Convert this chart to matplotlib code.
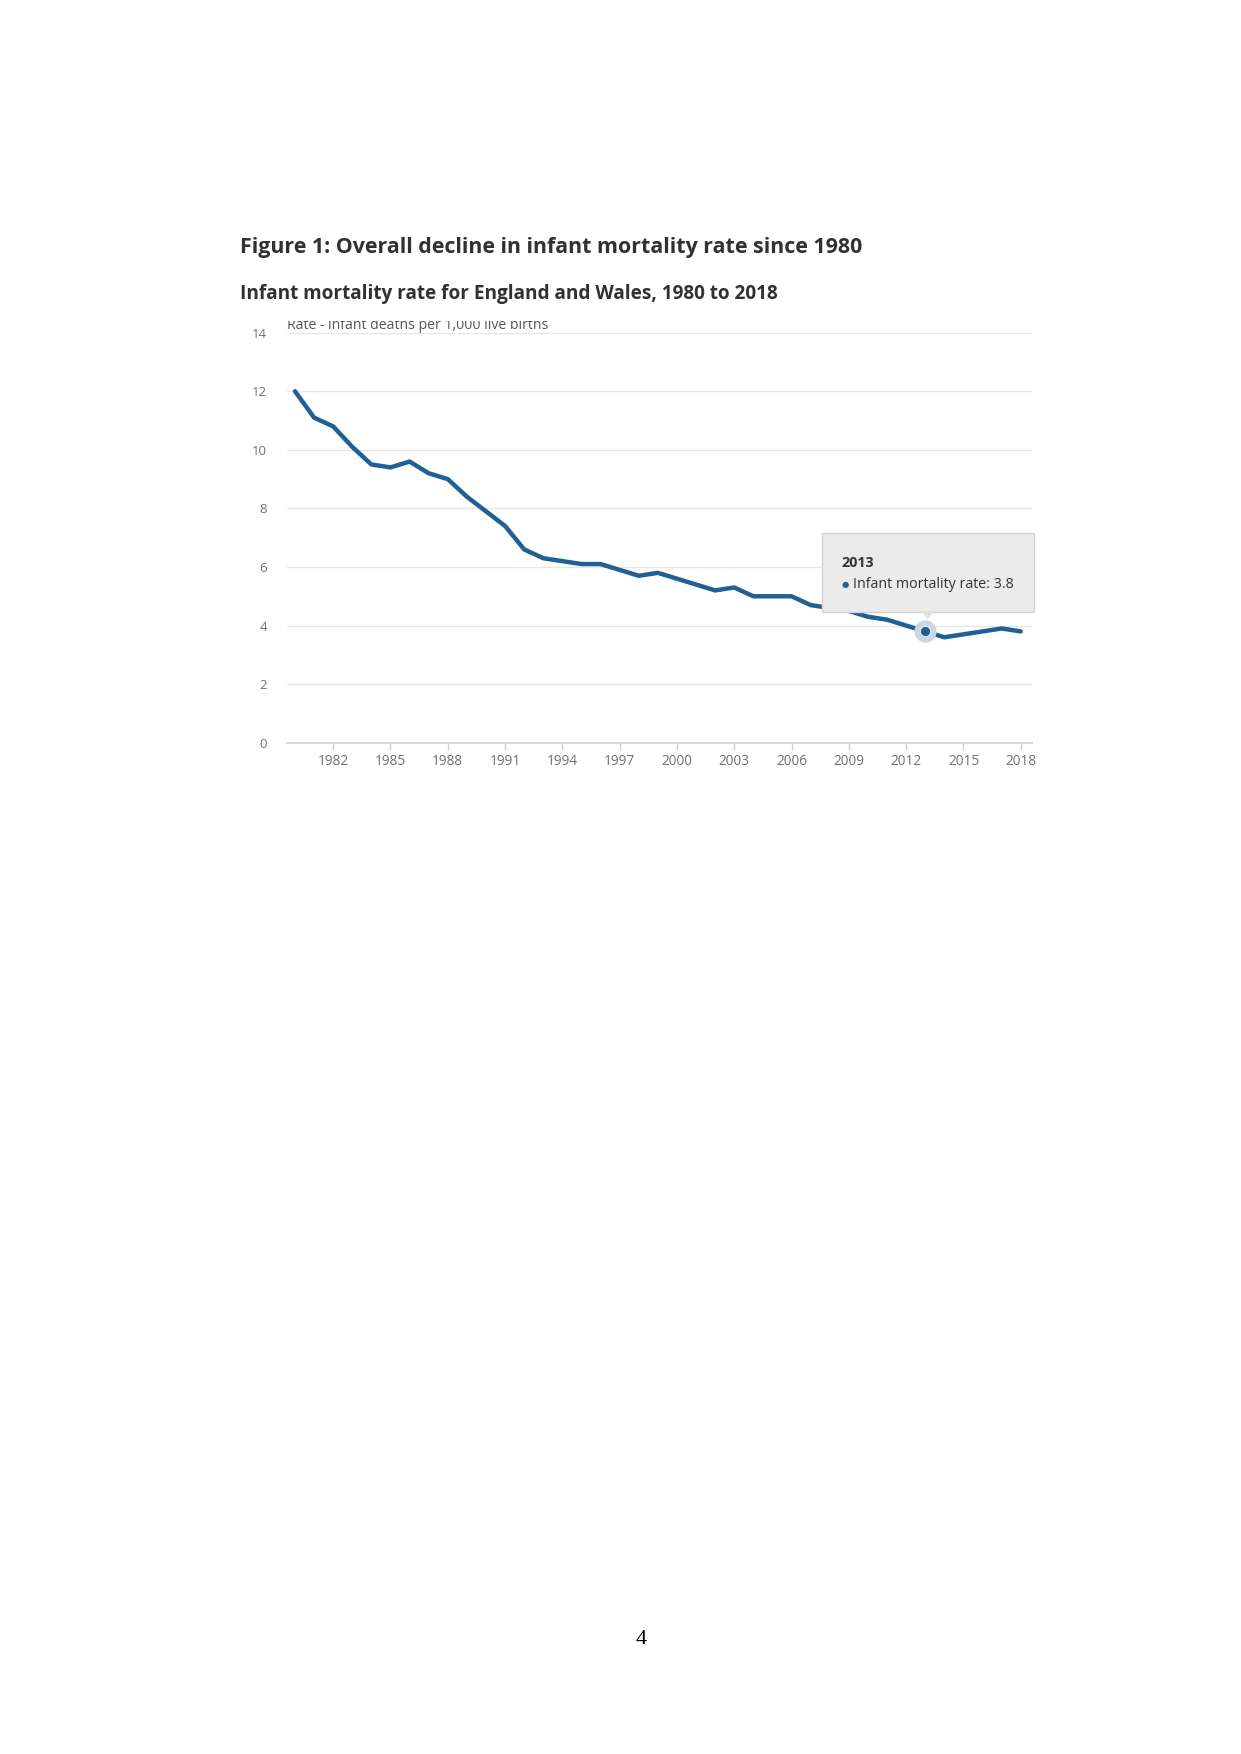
import matplotlib
matplotlib.use("Agg")
import matplotlib.pyplot as plt
from matplotlib.patches import Rectangle, Polygon

years = list(range(1980, 2019))
rates = [12.0, 11.1, 10.8, 10.1, 9.5, 9.4, 9.6, 9.2, 9.0, 8.4,
         7.9, 7.4, 6.6, 6.3, 6.2, 6.1, 6.1, 5.9, 5.7, 5.8,
         5.6, 5.4, 5.2, 5.3, 5.0, 5.0, 5.0, 4.7, 4.6, 4.5,
         4.3, 4.2, 4.0, 3.8, 3.6, 3.7, 3.8, 3.9, 3.8]
xticks = list(range(1982, 2019, 3))
yticks = [0, 2, 4, 6, 8, 10, 12, 14]
highlight_year = 2013

title = "Figure 1: Overall decline in infant mortality rate since 1980"
subtitle = "Infant mortality rate for England and Wales, 1980 to 2018"
ylabel = "Rate - infant deaths per 1,000 live births"
series_name = "Infant mortality rate"

W, H = 1241, 1754
fig = plt.figure(figsize=(W / 100, H / 100), dpi=100)
plt.rcParams['font.family'] = ['Open Sans', 'DejaVu Sans']

def fx(px):
    return px / W

def fy(py):
    return 1 - py / H

LINE = "#206095"
GRID = "#e6e6e6"
TXT = "#707070"

ax_l, ax_r, ax_t, ax_b = 286.7, 1032, 332.7, 742.7
ax = fig.add_axes([fx(ax_l), fy(ax_b), (ax_r - ax_l) / W, (ax_b - ax_t) / H])
ax.set_xlim(1979.565, 2018.59)
ax.set_ylim(0, 14)
for s in ["top", "right", "left"]:
    ax.spines[s].set_visible(False)
ax.spines["bottom"].set_color("#cfcfcf")
ax.spines["bottom"].set_linewidth(1.2)
ax.set_yticks(yticks)
ax.set_yticklabels([str(v) for v in yticks])
ax.set_xticks(xticks)
ax.set_xticklabels([str(v) for v in xticks])
ax.tick_params(axis="y", length=0, pad=14, labelsize=9.5, labelcolor=TXT)
ax.tick_params(axis="x", length=5, width=1, color="#cfcfcf", pad=3,
               labelsize=9.8, labelcolor=TXT)
ax.yaxis.grid(True, color=GRID, lw=1)
ax.set_axisbelow(True)
for lbl in ax.get_yticklabels():
    lbl.set_horizontalalignment("right")

ax.plot(years, rates, color=LINE, lw=3.2, solid_joinstyle="round",
        solid_capstyle="round", zorder=3)

hi = years.index(highlight_year)
ax.plot([years[hi]], [rates[hi]], "o", ms=15, color="#c9d6e3", zorder=4)
ax.plot([years[hi]], [rates[hi]], "o", ms=7.5, color=LINE, mec="#e8eef4",
        mew=0.8, zorder=5)

# axis label (clipped at top as in reference)
t = fig.text(fx(287), fy(329), ylabel, fontsize=10.1, color="#555555",
             ha="left", va="baseline")
clip = Rectangle((0, 0), 1, fy(320.5), transform=fig.transFigure)
t.set_clip_path(clip)

# titles
fig.text(fx(240), fy(247.5), title, fontsize=15.4, fontweight="bold",
         color="#323132", ha="left", va="center")
fig.text(fx(240), fy(294), subtitle, fontsize=13.7, fontweight="bold",
         color="#323132", ha="left", va="center")

# tooltip
bx0, bx1, by0, by1 = 821.7, 1034.3, 533.3, 611.7
box = Rectangle((fx(bx0), fy(by1)), (bx1 - bx0) / W, (by1 - by0) / H,
                transform=fig.transFigure, facecolor="#ebebeb",
                edgecolor="#d2d2d2", lw=1, zorder=10)
fig.patches.append(box)
tri = Polygon([(fx(920.5), fy(by1 - 0.5)), (fx(934.5), fy(by1 - 0.5)),
               (fx(927.5), fy(619))], closed=True, transform=fig.transFigure,
              facecolor="#e2e2e2", edgecolor="none", zorder=11)
fig.patches.append(tri)
fig.text(fx(841.5), fy(563), str(highlight_year), fontsize=10.3,
         fontweight="bold", color="#333333", ha="left", va="center", zorder=12)
fig.text(fx(845), fy(584), "\u25cf", fontsize=6, color=LINE, ha="center",
         va="center", zorder=12, family=["DejaVu Sans"])
fig.text(fx(853), fy(584), f"{series_name}: {rates[hi]}", fontsize=10.3,
         color="#333333", ha="left", va="center", zorder=12)

# page number
fig.text(fx(641), fy(1640), "4", fontsize=16, family=["Liberation Serif"],
         color="black", ha="center", va="center")

fig.savefig("out.png", dpi=100, facecolor="white")
